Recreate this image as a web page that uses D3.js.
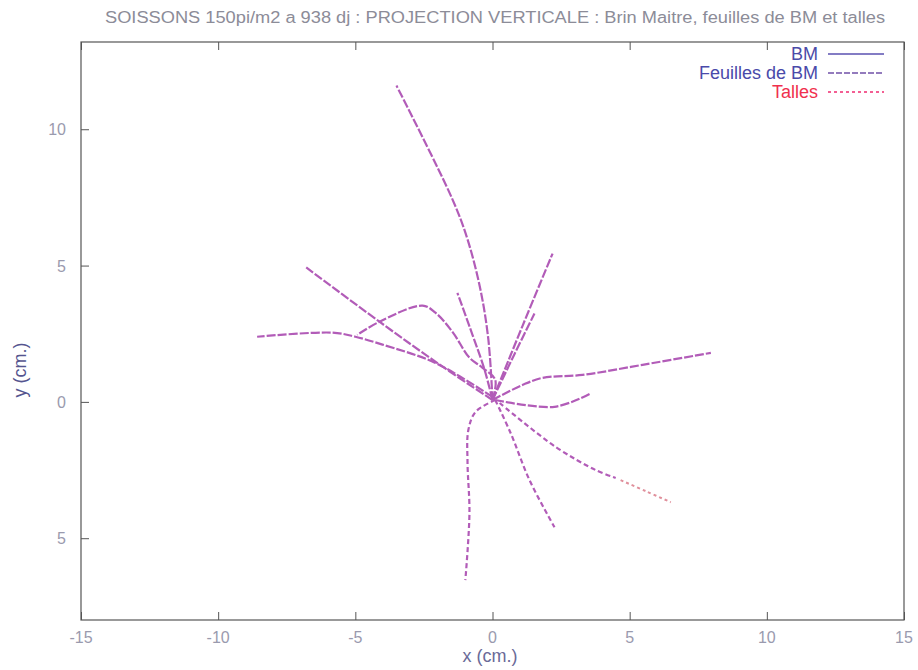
<!DOCTYPE html>
<html lang="fr">
<head>
    <meta charset="UTF-8">
    <title>Projection verticale</title>
    <script src="https://d3js.org/d3.v7.min.js"></script>
    <style>
        body { margin: 0; background: #fff; }
        text { font-family: "Liberation Sans", Arial, sans-serif; }
    </style>
</head>
<body>
<svg width="918" height="670"></svg>
<script>
    // ticks
    var xTicks = [-15, -10, -5, 0, 5, 10, 15];
    var yTicks = [10, 5, 0, -5];
    var yTickLabels = ['10', '5', '0', '5']; // le scan perd le signe moins

    // BM (brin maitre) et feuilles : [x, y] en cm
    var feuilles = [
        [[0, 0.07], [-0.15, 2.28], [-0.44, 4.12], [-0.91, 5.96], [-1.46, 7.43], [-3.5, 11.6]],
        [[0, 0.07], [1.1, 2.8], [2.19, 5.44]],
        [[0, 0.07], [0.8, 1.75], [1.53, 3.24]],
        [[0, 0.07], [-0.29, 1.18], [-0.73, 2.46], [-1.28, 4.0]],
        [[0, 0.07], [-1.83, 1.3], [-4.12, 2.94], [-6.79, 4.93]],
        [[0, 0.18], [-2.08, 1.43], [-4.01, 2.10], [-5.0, 2.39], [-5.84, 2.54], [-8.58, 2.39]],
        [[0, 0.07], [0.1, 0.81], [-0.36, 1.25], [-0.84, 1.62], [-1.46, 2.57], [-2.08, 3.27], [-2.55, 3.53], [-4.12, 2.94], [-4.93, 2.46]],
        [[0, 0.07], [1.09, 0.62], [1.82, 0.88], [3.28, 0.99], [5.47, 1.36], [7.96, 1.8]],
        [[0.1, 0.07], [2.26, -0.18], [3.54, 0.29]]
    ];
    var feuillesBas = [
        [[0.1, 0.07], [-0.62, -0.37], [-0.88, -1.03], [-0.91, -2.24], [-0.84, -4.08], [-0.99, -6.54]],
        [[0.1, 0.07], [0.66, -1.14], [1.35, -2.87], [2.26, -4.6]],
        [[0.26, -0.04], [2.3, -1.65], [3.76, -2.5], [4.49, -2.79]]
    ];
    var talles = [
        [[4.67, -2.87], [5.6, -3.28], [6.5, -3.68]]
    ];

    var svg = d3.select('svg');
    var pLeft = 81, pRight = 904, pTop = 42, pBottom = 620;

    var x = d3.scaleLinear().domain([-15, 15]).range([pLeft, pRight]);
    var y = d3.scaleLinear().domain([-8, 13.2]).range([pBottom, pTop]);

    // cadre
    svg.append('rect')
        .attr('x', pLeft).attr('y', pTop)
        .attr('width', pRight - pLeft).attr('height', pBottom - pTop)
        .attr('fill', 'none').attr('stroke', '#555').attr('stroke-width', 1.2);

    // axes (ticks vers l'interieur)
    svg.append('g').attr('transform', 'translate(0,' + pBottom + ')')
        .call(d3.axisTop(x).tickValues(xTicks).tickSize(8).tickFormat(''))
        .call(function (g) { g.select('.domain').remove(); });
    svg.append('g').attr('transform', 'translate(0,' + pTop + ')')
        .call(d3.axisBottom(x).tickValues(xTicks).tickSize(8).tickFormat(''))
        .call(function (g) { g.select('.domain').remove(); });
    svg.append('g').attr('transform', 'translate(' + pLeft + ',0)')
        .call(d3.axisRight(y).tickValues(yTicks).tickSize(8).tickFormat(''))
        .call(function (g) { g.select('.domain').remove(); });
    svg.selectAll('.tick line').attr('stroke', '#555');

    svg.append('g').selectAll('text').data(xTicks).enter().append('text')
        .attr('x', function (d) { return x(d); })
        .attr('y', pBottom + 23)
        .attr('text-anchor', 'middle')
        .attr('font-size', 16).attr('fill', '#9a9aae')
        .text(function (d) { return d; });

    svg.append('g').selectAll('text').data(yTicks).enter().append('text')
        .attr('x', 66)
        .attr('y', function (d) { return y(d) + 6; })
        .attr('text-anchor', 'end')
        .attr('font-size', 16).attr('fill', '#9a9aae')
        .text(function (d, i) { return yTickLabels[i]; });

    // titres
    svg.append('text').attr('x', 105).attr('y', 23)
        .attr('textLength', 780).attr('lengthAdjust', 'spacingAndGlyphs')
        .attr('font-size', 16).attr('fill', '#8c8c98')
        .text('SOISSONS 150pi/m2 a 938 dj : PROJECTION VERTICALE : Brin Maitre, feuilles de BM et talles');
    svg.append('text').attr('x', 490).attr('y', 662).attr('text-anchor', 'middle')
        .attr('font-size', 18).attr('fill', '#6a6a98')
        .text('x (cm.)');
    svg.append('text').attr('transform', 'translate(26,370) rotate(-90)')
        .attr('text-anchor', 'middle')
        .attr('font-size', 18).attr('fill', '#55558f')
        .text('y (cm.)');

    var line = d3.line()
        .x(function (d) { return x(d[0]); })
        .y(function (d) { return y(d[1]); })
        .curve(d3.curveCatmullRom);

    var purple = '#b25cb8';
    svg.append('g').selectAll('path').data(feuilles).enter().append('path')
        .attr('d', line).attr('fill', 'none')
        .attr('stroke', purple).attr('stroke-width', 2.2)
        .attr('stroke-dasharray', '9,2');
    svg.append('g').selectAll('path').data(feuillesBas).enter().append('path')
        .attr('d', line).attr('fill', 'none')
        .attr('stroke', purple).attr('stroke-width', 2.2)
        .attr('stroke-dasharray', '5,3');
    svg.append('g').selectAll('path').data(talles).enter().append('path')
        .attr('d', line).attr('fill', 'none')
        .attr('stroke', '#e0909c').attr('stroke-width', 2)
        .attr('stroke-dasharray', '3,3');

    // legende
    var legend = [
        { name: 'BM', color: '#4b4ba8', stroke: '#5a50b0', dash: null },
        { name: 'Feuilles de BM', color: '#4a4aaa', stroke: '#7050a8', dash: '6,2' },
        { name: 'Talles', color: '#f0304e', stroke: '#f02a70', dash: '3,3' }
    ];
    var lg = svg.append('g').selectAll('g').data(legend).enter().append('g')
        .attr('transform', function (d, i) { return 'translate(0,' + (54 + i * 19) + ')'; });
    lg.append('text').attr('x', 818).attr('y', 6).attr('text-anchor', 'end')
        .attr('font-size', 18).attr('fill', function (d) { return d.color; })
        .text(function (d) { return d.name; });
    lg.append('line').attr('x1', 828).attr('x2', 884)
        .attr('stroke', function (d) { return d.stroke; }).attr('stroke-width', 1.5)
        .attr('stroke-dasharray', function (d) { return d.dash; });
</script>
</body>
</html>
